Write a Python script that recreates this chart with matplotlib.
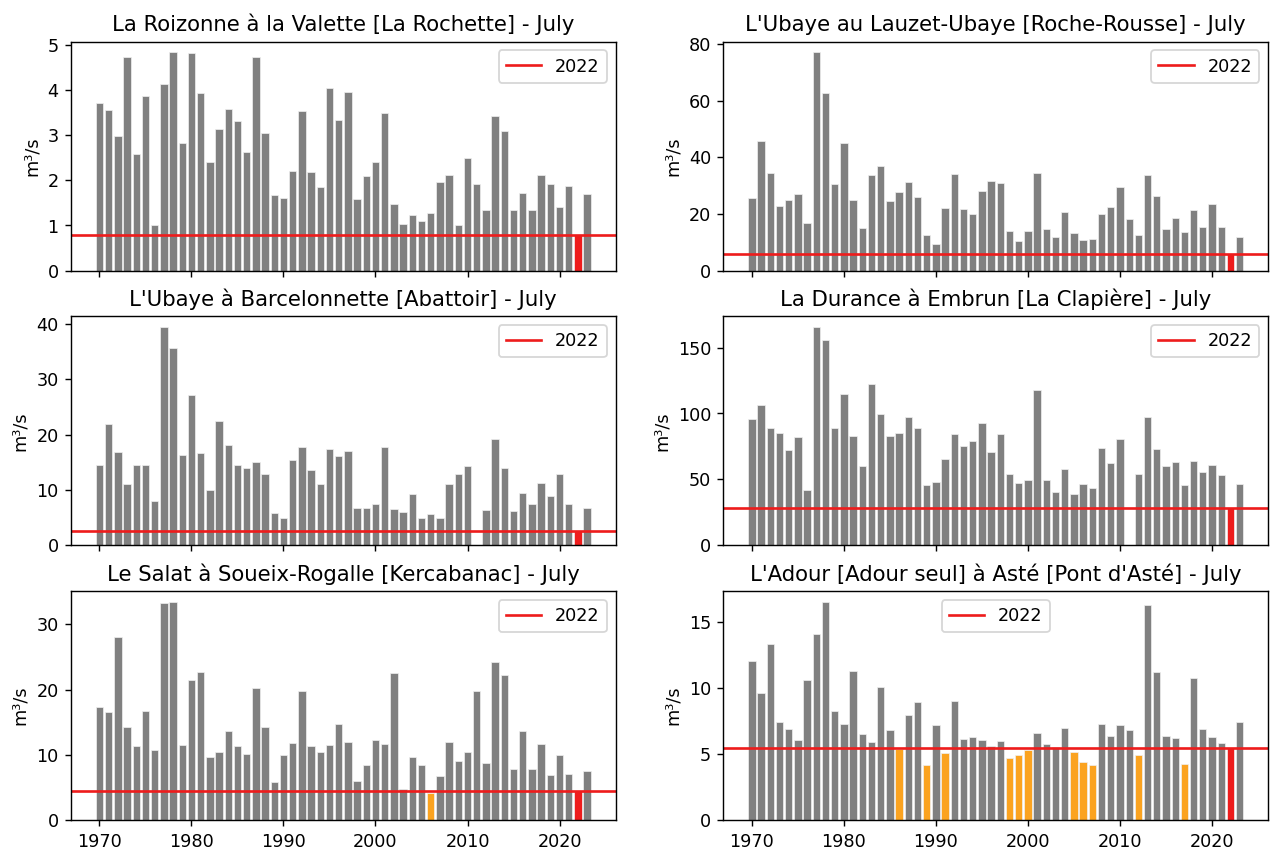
import numpy as np
import matplotlib
matplotlib.use("Agg")
import matplotlib.pyplot as plt
from matplotlib.ticker import MultipleLocator

years = list(range(1970, 2024))
nan = np.nan

titles = [
    "La Roizonne à la Valette [La Rochette] - July",
    "L'Ubaye au Lauzet-Ubaye [Roche-Rousse] - July",
    "L'Ubaye à Barcelonnette [Abattoir] - July",
    "La Durance à Embrun [La Clapière] - July",
    "Le Salat à Soueix-Rogalle [Kercabanac] - July",
    "L'Adour [Adour seul] à Asté [Pont d'Asté] - July",
]

roizonne = [3.71, 3.56, 2.99, 4.74, 2.58, 3.88, 1.01, 4.14, 4.84, 2.82,
            4.83, 3.93, 2.40, 3.14, 3.59, 3.32, 2.62, 4.74, 3.05, 1.68,
            1.61, 2.21, 3.53, 2.19, 1.86, 4.05, 3.34, 3.97, 1.58, 2.10,
            2.41, 3.49, 1.48, 1.03, 1.24, 1.09, 1.27, 1.96, 2.13, 1.00,
            2.49, 1.93, 1.34, 3.42, 3.09, 1.35, 1.72, 1.34, 2.12, 1.93,
            1.40, 1.88, 0.78, 1.69]

lauzet = [25.8, 45.9, 34.6, 22.8, 24.8, 27.2, 16.7, 77.1, 62.6, 30.7,
          45.2, 25.1, 14.9, 33.8, 37.1, 24.7, 27.9, 31.4, 26.1, 12.6,
          9.4, 22.1, 34.1, 21.8, 19.9, 28.2, 31.8, 30.9, 13.9, 10.5,
          13.9, 34.6, 14.7, 11.9, 20.8, 13.4, 10.9, 11.1, 20.0, 22.4,
          29.6, 18.2, 12.4, 33.6, 26.2, 14.8, 18.7, 13.6, 21.3, 15.5,
          23.4, 15.4, 6.0, 11.8]

barcelonnette = [14.6, 21.9, 16.9, 11.0, 14.5, 14.6, 8.1, 39.4, 35.6, 16.4,
                 27.2, 16.7, 10.0, 22.4, 18.1, 14.6, 14.0, 15.0, 12.8, 5.8,
                 4.9, 15.5, 17.8, 13.7, 11.0, 17.4, 16.1, 17.1, 6.7, 6.7,
                 7.5, 17.8, 6.5, 6.0, 9.3, 4.9, 5.6, 4.9, 11.1, 12.9,
                 14.3, nan, 6.4, 19.2, 14.0, 6.2, 9.5, 7.5, 11.3, 8.9,
                 12.8, 7.5, 2.5, 6.7]

embrun = [95.9, 106.8, 89.0, 85.5, 72.1, 82.5, 42.0, 165.4, 155.8, 88.8,
          115.1, 83.2, 60.5, 122.2, 99.7, 83.2, 85.3, 97.6, 88.8, 45.5,
          48.1, 65.3, 84.2, 75.6, 79.4, 92.6, 70.8, 84.5, 53.9, 47.3,
          49.8, 117.6, 49.8, 40.7, 58.2, 38.7, 46.8, 43.8, 73.6, 62.2,
          80.4, nan, 53.9, 97.4, 73.1, 60.2, 63.2, 45.5, 64.0, 55.7,
          61.0, 53.4, 28.1, 46.3]

salat = [17.3, 16.5, 28.0, 14.2, 11.4, 16.7, 10.7, 33.2, 33.4, 11.5,
         21.5, 22.7, 9.7, 10.5, 13.7, 11.4, 10.1, 20.3, 14.2, 5.9,
         9.9, 11.8, 19.8, 11.3, 10.5, 11.5, 14.7, 11.9, 6.0, 8.4,
         12.3, 11.6, 22.6, 4.8, 9.6, 8.4, 4.1, 6.7, 12.0, 9.1,
         10.5, 19.7, 8.8, 24.2, 22.2, 7.8, 13.6, 7.9, 11.7, 6.9,
         9.9, 7.0, 4.4, 7.6]

adour = [12.05, 9.6, 13.3, 7.45, 6.87, 6.04, 10.58, 14.09, 16.5, 8.26,
         7.27, 11.29, 6.49, 5.91, 10.05, 6.82, 5.38, 7.98, 8.91, 4.17,
         7.2, 5.1, 9.04, 6.16, 6.29, 6.06, 5.63, 6.01, 4.72, 4.95,
         5.3, 6.59, 5.73, 5.5, 6.97, 5.17, 4.42, 4.19, 7.3, 6.4,
         7.2, 6.8, 4.9, 16.3, 11.2, 6.4, 6.25, 4.25, 10.75, 6.87,
         6.27, 5.8, 5.45, 7.45]

series = [roizonne, lauzet, barcelonnette, embrun, salat, adour]
ytick_steps = [1, 20, 10, 50, 10, 5]
legend_locs = ["upper right"] * 5 + ["upper center"]
ref_year = 2022

fig, axes = plt.subplots(3, 2, figsize=(10, 6.675), dpi=127.2, sharex=True)
fig.subplots_adjust(left=0.0558, right=0.9969, top=0.951, bottom=0.034,
                    wspace=0.198, hspace=0.2)

for ax, title, vals, loc, step in zip(axes.flat, titles, series,
                                      legend_locs, ytick_steps):
    vals = np.array(vals, dtype=float)
    yrs = np.array(years)
    ref_val = vals[yrs == ref_year][0]
    mask = ~np.isnan(vals)
    colors = []
    for y, v in zip(yrs[mask], vals[mask]):
        if y == ref_year:
            colors.append("#ee1c1c")
        elif v < ref_val:
            colors.append("#fba320")
        else:
            colors.append("#808080")
    ax.bar(yrs[mask], vals[mask], width=0.8, color=colors,
           edgecolor="#f0f0f0", linewidth=0.4)
    ax.axhline(ref_val, color="#ee1c1c", linewidth=1.5, label=str(ref_year))
    ax.set_title(title, fontsize=12)
    ax.set_ylabel("m³/s")
    ax.yaxis.set_major_locator(MultipleLocator(step))
    ax.legend(loc=loc)

for ax in axes[:2].flat:
    ax.tick_params(labelbottom=False)

fig.savefig("out.png", dpi=127.2)
